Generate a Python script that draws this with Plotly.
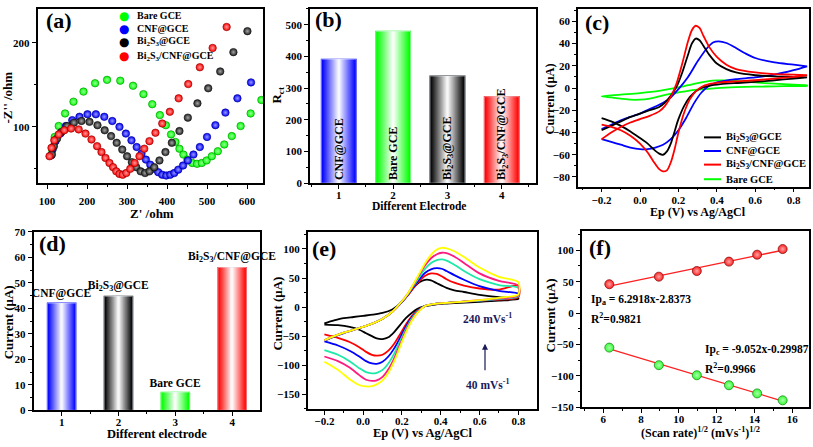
import numpy as np
import plotly.graph_objects as go

W, H = 813, 447
FONT = "Liberation Serif"

# ---------------- (a) Nyquist plots ----------------
a_bare_x = [113, 119, 129, 145, 166, 191, 220, 250, 283, 315, 341, 363, 382, 397, 410, 421, 431, 441, 451, 463, 475, 487, 499, 512, 527, 543, 562, 584, 609, 636]
a_bare_y = [72, 88, 101, 116, 130, 142, 152, 156, 155, 149, 139, 127, 114, 102, 91, 82, 74, 67, 61, 57, 56, 57, 60, 65, 71, 79, 89, 101, 116, 132]
a_cnf_x = [110, 114, 121, 133, 147, 163, 181, 201, 222, 243, 263, 281, 297, 311, 324, 336, 347, 358, 368, 378, 388, 398, 408, 418, 428, 440, 452, 466, 482, 500, 521, 546, 576, 610]
a_cnf_y = [66, 74, 83, 92, 101, 108, 112, 115, 115, 112, 107, 100, 92, 84, 76, 68, 61, 55, 50, 46, 43, 42, 43, 45, 49, 54, 60, 67, 76, 88, 102, 117, 134, 153]
a_bi_x = [112, 117, 125, 136, 150, 167, 186, 206, 226, 244, 260, 274, 288, 300, 312, 323, 334, 345, 356, 368, 381, 396, 412, 431, 452, 476, 503, 533, 566, 601]
a_bi_y = [67, 77, 86, 94, 101, 105, 107, 106, 102, 96, 89, 81, 73, 65, 58, 52, 47, 45, 47, 52, 60, 70, 81, 95, 111, 128, 146, 166, 189, 214]
a_bicnf_x = [106, 111, 118, 129, 143, 160, 179, 196, 211, 225, 236, 246, 256, 265, 273, 281, 289, 298, 308, 319, 331, 343, 356, 371, 388, 407, 429, 453, 482, 514, 549]
a_bicnf_y = [65, 75, 84, 91, 96, 98, 97, 92, 85, 77, 70, 63, 57, 52, 47, 44, 43, 45, 50, 57, 65, 74, 83, 93, 104, 118, 134, 151, 171, 194, 219]

# ---------------- (b) Rct bars ----------------
b_pos = [1, 2, 3, 4]
b_labels = ["CNF@GCE", "Bare GCE", "Bi<sub>2</sub>S<sub>3</sub>@GCE", "Bi<sub>2</sub>S<sub>3</sub>/CNF@GCE"]
b_rct = [391, 479, 338, 273]

# ---------------- (c) CVs of electrodes ----------------
c_bi_v = [-0.2, -0.15, -0.1, -0.05, 0.0, 0.05, 0.1, 0.13, 0.16, 0.19, 0.22, 0.25, 0.27, 0.29, 0.31, 0.33, 0.36, 0.4, 0.45, 0.5, 0.6, 0.7, 0.8, 0.87,
          0.87, 0.8, 0.7, 0.6, 0.5, 0.42, 0.36, 0.32, 0.29, 0.26, 0.23, 0.2, 0.18, 0.16, 0.14, 0.12, 0.1, 0.07, 0.04, 0.0, -0.05, -0.1, -0.15, -0.2]
c_bi_i = [-38, -34, -30, -26, -23, -20, -17, -13, -7, 1, 14, 30, 40, 44.5, 43, 38, 30, 22, 17, 14, 11.5, 10.5, 10, 9.5,
          9.5, 8.5, 7, 5.5, 4.5, 3.5, 2, 0, -3, -8, -16, -28, -39, -50, -57, -60, -59, -55, -50, -45, -39, -34, -30, -27]
c_cnf_v = [-0.2, -0.15, -0.1, -0.05, 0.0, 0.05, 0.1, 0.15, 0.2, 0.25, 0.3, 0.35, 0.38, 0.41, 0.45, 0.5, 0.55, 0.6, 0.7, 0.8, 0.87,
           0.87, 0.8, 0.7, 0.6, 0.5, 0.44, 0.4, 0.36, 0.32, 0.28, 0.24, 0.2, 0.16, 0.12, 0.08, 0.04, 0.0, -0.05, -0.1, -0.15, -0.2]
c_cnf_i = [-37, -33, -29, -26, -23, -19, -15, -10, -1, 10, 24, 36, 41, 42, 40.5, 36, 31, 27, 23, 21, 19.5,
           19.5, 16, 12, 9.5, 8, 6.5, 5, 2, -4, -14, -27, -38, -46, -51, -53.5, -55, -55, -53.5, -51, -48.5, -46]
c_bicnf_v = [-0.2, -0.15, -0.1, -0.05, 0.0, 0.05, 0.1, 0.13, 0.16, 0.19, 0.22, 0.25, 0.27, 0.29, 0.31, 0.33, 0.36, 0.4, 0.45, 0.5, 0.6, 0.7, 0.8, 0.87,
             0.87, 0.8, 0.7, 0.6, 0.5, 0.42, 0.36, 0.32, 0.29, 0.26, 0.23, 0.2, 0.18, 0.16, 0.14, 0.12, 0.1, 0.07, 0.04, 0.0, -0.05, -0.1, -0.15, -0.2]
c_bicnf_i = [-46, -40, -35, -31, -28, -25, -21, -16, -8, 4, 22, 42, 52, 56, 54, 47, 37, 28, 21, 17, 14, 12.5, 12, 11.5,
             11.5, 10, 8.5, 7, 6, 5, 3.5, 1, -3, -10, -22, -40, -55, -67, -74, -75, -73, -66, -58, -50, -43, -38, -35, -33]
c_bare_v = [-0.2, -0.1, 0.0, 0.1, 0.2, 0.25, 0.3, 0.35, 0.4, 0.45, 0.5, 0.6, 0.7, 0.8, 0.87,
            0.87, 0.8, 0.7, 0.6, 0.5, 0.4, 0.3, 0.25, 0.2, 0.15, 0.1, 0.05, 0.0, -0.05, -0.1, -0.15, -0.2]
c_bare_i = [-7.5, -6, -4.5, -2.5, 0.5, 2.5, 4.5, 6, 6.8, 6.8, 6.3, 5, 4, 3, 2.5,
            2, 1.8, 1.5, 1.2, 0.8, 0, -1.5, -2.5, -4, -5.5, -7.5, -9.5, -10.5, -10.5, -9.5, -8.5, -7.5]
c_names = ["Bi<sub>2</sub>S<sub>3</sub>@GCE", "CNF@GCE", "Bi<sub>2</sub>S<sub>3</sub>/CNF@GCE", "Bare GCE"]

# ---------------- (d) peak current bars ----------------
d_pos = [1, 2, 3, 4]
d_labels = ["CNF@GCE", "Bi<sub>2</sub>S<sub>3</sub>@GCE", "Bare GCE", "Bi<sub>2</sub>S<sub>3</sub>/CNF@GCE"]
d_current = [42, 44.7, 7.1, 56]

# ---------------- (e) CVs at scan rates ----------------
e_fwd_v = [-0.2, -0.15, -0.1, -0.05, 0.0, 0.05, 0.1, 0.15, 0.2, 0.23, 0.26, 0.29, 0.32, 0.35, 0.38, 0.405, 0.43, 0.47, 0.52, 0.6, 0.7, 0.8]
e_rev_v = [0.8, 0.7, 0.6, 0.5, 0.42, 0.36, 0.32, 0.28, 0.25, 0.22, 0.19, 0.16, 0.13, 0.1, 0.07, 0.045, 0.015, -0.02, -0.07, -0.13, -0.2]
e_40_fwd = [-28, -23, -19, -17, -15, -13, -10, -4, 9, 21, 34, 43, 47, 46, 41, 37, 33, 29, 26, 21, 17, 15]
e_40_rev = [14, 11, 9, 7.5, 6, 4, 1.5, -3, -10, -19, -31, -43, -52, -55, -54, -50, -45, -39, -34, -31, -30]
e_80_fwd = [-57, -50, -44, -39, -34, -28, -20, -8, 9, 20, 33, 45, 54, 58, 57, 53, 48, 42, 37, 32, 30, 37]
e_80_rev = [17, 13, 11, 9, 7, 5, 2, -6, -16, -30, -47, -63, -75, -82, -83.5, -82, -77, -69, -60, -53, -47]
e_120_fwd = [-58, -51, -45, -39, -34, -28, -20, -8, 9, 21, 35, 48, 59, 65, 67, 66, 62, 55, 47, 36, 28, 23]
e_120_rev = [19, 14, 11, 9, 7, 5, 2, -7, -18, -34, -53, -71, -85, -94, -97.5, -97, -93, -85, -75, -66, -59]
e_160_fwd = [-57, -50, -44, -39, -34, -28, -20, -8, 10, 22, 37, 52, 66, 76, 81, 82, 80, 73, 62, 48, 38, 33]
e_160_rev = [19, 14, 11, 9, 7, 5, 2, -8, -20, -38, -59, -80, -97, -108, -113, -114, -112, -105, -93, -82, -74]
e_200_fwd = [-57, -50, -44, -39, -34, -28, -20, -8, 10, 23, 39, 56, 72, 84, 91, 93.5, 93, 87, 76, 58, 45, 37]
e_200_rev = [20, 15, 12, 9, 7, 5, 2, -9, -22, -41, -64, -88, -107, -120, -126, -127, -125, -117, -104, -93, -85]
e_240_fwd = [-57, -50, -44, -39, -34, -28, -20, -8, 10, 23, 40, 58, 76, 90, 99, 102, 101, 96, 86, 68, 52, 43]
e_240_rev = [22, 16, 12, 9, 7, 5, 2, -10, -24, -44, -68, -93, -113, -126, -133, -136, -136.5, -134, -124, -108, -94]
e_label_hi = "240 mVs<sup>-1</sup>"
e_label_lo = "40 mVs<sup>-1</sup>"

# ---------------- (f) peak current vs sqrt(scan rate) ----------------
f_sqrt_rate = [6.32, 8.94, 10.95, 12.65, 14.14, 15.49]
f_ipa = [46, 58, 67, 82, 93, 102]
f_ipc = [-55, -83, -99, -115, -128, -139]
f_eq_a = ["Ip<sub>a</sub> = 6.2918x-2.8373", "R<sup>2</sup>=0.9821"]
f_eq_c = ["Ip<sub>c</sub> = -9.052x-0.29987", "R<sup>2</sup>=0.9966"]

# ======================================================================
GREEN, BLUE, BLACK, RED = "#00ff00", "#0000ff", "#000000", "#ff0000"


def hex_rgb(h):
    h = h.lstrip("#")
    return tuple(int(h[i:i + 2], 16) for i in (0, 2, 4))


def mix(h, f):
    r, g, b = hex_rgb(h)
    return "rgb(%d,%d,%d)" % (r + (255 - r) * f, g + (255 - g) * f, b + (255 - b) * f)


def darker(h, f=0.45):
    r, g, b = hex_rgb(h)
    return "rgb(%d,%d,%d)" % (r * (1 - f), g * (1 - f), b * (1 - f))


# panel boxes in pixels: x0, x1, ytop, ybottom
BOX = {
    1: (37.5, 263, 3, 182),
    2: (310, 536, 3, 182),
    3: (578, 809, 3.5, 185.7),
    4: (33.5, 260, 232, 415.5),
    5: (307.7, 537.3, 232, 414.3),
    6: (581.7, 809.3, 231.7, 412.3),
}

fig = go.Figure()


def ax(i):
    return ("x" if i == 1 else "x%d" % i), ("y" if i == 1 else "y%d" % i)


# (a)
for xs, ys, col in [(a_bare_x, a_bare_y, GREEN), (a_cnf_x, a_cnf_y, BLUE),
                    (a_bi_x, a_bi_y, "#202020"), (a_bicnf_x, a_bicnf_y, RED)]:
    fig.add_trace(go.Scatter(x=xs, y=ys, mode="markers", xaxis="x", yaxis="y",
                             marker=dict(size=7.5, color=col,
                                         gradient=dict(type="radial", color=mix(col, 0.6)),
                                         line=dict(width=0.6, color=darker(col))),
                             showlegend=False, hoverinfo="skip"))


def gradient_bars(xs, ys, colors, width, i, n=16):
    xa, ya = ax(i)
    for k in range(n):
        f = 0.97 * k / (n - 1)
        fig.add_trace(go.Bar(x=xs, y=ys, width=width * (1 - k / n), xaxis=xa, yaxis=ya,
                             marker=dict(color=[mix(c, f) for c in colors],
                                         line=dict(width=1.2 if k == 0 else 0, color=colors)),
                             showlegend=False, hoverinfo="skip"))


# (b)
gradient_bars(b_pos, b_rct, [BLUE, GREEN, BLACK, RED], 0.64, 2)
fig.add_trace(go.Bar(x=b_pos, y=b_rct, width=0.64, xaxis="x2", yaxis="y2",
                     marker=dict(color="rgba(0,0,0,0)"), text=b_labels,
                     textposition="inside", insidetextanchor="start", textangle=-90,
                     constraintext="none",
                     insidetextfont=dict(family=FONT, size=12, color="black", weight="bold"),
                     showlegend=False, hoverinfo="skip"))

# (c)
for vs, cs, col in [(c_bare_v, c_bare_i, GREEN), (c_cnf_v, c_cnf_i, BLUE),
                    (c_bi_v, c_bi_i, BLACK), (c_bicnf_v, c_bicnf_i, RED)]:
    fig.add_trace(go.Scatter(x=vs, y=cs, mode="lines", xaxis="x3", yaxis="y3",
                             line=dict(color=col, width=1.8, shape="spline", smoothing=0.8),
                             showlegend=False, hoverinfo="skip"))

# (d)
gradient_bars(d_pos, d_current, [BLUE, BLACK, GREEN, RED], 0.5, 4)
fig.add_trace(go.Bar(x=d_pos, y=d_current, width=0.5, xaxis="x4", yaxis="y4",
                     marker=dict(color="rgba(0,0,0,0)"), text=d_labels,
                     textposition="outside", textangle=0, constraintext="none", cliponaxis=False,
                     outsidetextfont=dict(family=FONT, size=11.5, color="black", weight="bold"),
                     showlegend=False, hoverinfo="skip"))

# (e)
e_sets = [(e_40_fwd, e_40_rev, BLACK), (e_80_fwd, e_80_rev, RED), (e_120_fwd, e_120_rev, BLUE),
          (e_160_fwd, e_160_rev, "#1de9a8"), (e_200_fwd, e_200_rev, "#ff1a80"),
          (e_240_fwd, e_240_rev, "#ffff00")]
for fw, rv, col in e_sets:
    fig.add_trace(go.Scatter(x=e_fwd_v + e_rev_v, y=fw + rv, mode="lines", xaxis="x5", yaxis="y5",
                             line=dict(color=col, width=1.8, shape="spline", smoothing=0.8),
                             showlegend=False, hoverinfo="skip"))

# (f)
for ys, col in [(f_ipa, "#ff2020"), (f_ipc, "#33ff33")]:
    p = np.polyfit(f_sqrt_rate, ys, 1)
    xl = [f_sqrt_rate[0], f_sqrt_rate[-1]]
    fig.add_trace(go.Scatter(x=xl, y=list(np.polyval(p, xl)), mode="lines", xaxis="x6", yaxis="y6",
                             line=dict(color="#ff2020", width=1.3), showlegend=False, hoverinfo="skip"))
    fig.add_trace(go.Scatter(x=f_sqrt_rate, y=ys, mode="markers", xaxis="x6", yaxis="y6",
                             marker=dict(size=9, color=col, gradient=dict(type="radial", color=mix(col, 0.6)),
                                         line=dict(width=0.8, color=darker(col))),
                             showlegend=False, hoverinfo="skip"))

# ---------------- axes ----------------
TICKFONT = dict(family=FONT, size=11, color="black", weight="bold")


def make_axes(i, xr, yr, xd, yd, xm, ym, xtickvals=None, xfmt=None, xstand=0):
    x0, x1, yt, yb = BOX[i]
    common = dict(showline=True, linecolor="black", linewidth=1.5, mirror=True, ticks="outside",
                  ticklen=4, tickwidth=1.3, tickcolor="black", showgrid=False, zeroline=False,
                  tickfont=TICKFONT)
    xa = dict(common, domain=[x0 / W, x1 / W], range=xr, anchor=ax(i)[1], ticklabelstandoff=xstand,
              minor=dict(ticks="outside", ticklen=2, tickcolor="black", dtick=xm, showgrid=False))
    if xtickvals is not None:
        xa.update(tickmode="array", tickvals=xtickvals)
    else:
        xa.update(tick0=0, dtick=xd)
    if xfmt:
        xa["tickformat"] = xfmt
    ya = dict(common, domain=[1 - yb / H, 1 - yt / H], range=yr, anchor=ax(i)[0], tick0=0, dtick=yd,
              minor=dict(ticks="outside", ticklen=2, tickcolor="black", dtick=ym, showgrid=False))
    key = "" if i == 1 else str(i)
    fig.update_layout(**{"xaxis" + key: xa, "yaxis" + key: ya})


make_axes(1, [76, 640], [33, 240.5], 100, 100, 50, 50, xstand=3)
make_axes(2, [0.47, 4.63], [0, 550], None, 100, 0.5, 50, xtickvals=[1, 2, 3, 4], xstand=-3)
make_axes(3, [-0.323, 0.88], [-88.75, 70.7], 0.2, 20, 0.1, 10, xfmt=".1f", xstand=-2)
make_axes(4, [0.505, 4.49], [0, 70], None, 10, 0.5, 5, xtickvals=[1, 2, 3, 4], xstand=-3)
make_axes(5, [-0.286, 0.898], [-175.6, 129.6], 0.2, 50, 0.1, 25, xfmt=".1f", xstand=-3)
make_axes(6, [4.86, 16.9], [-150, 130], 2, 50, 1, 25, xstand=-3)

# ---------------- annotations ----------------
ann = []
shapes = []


def text(x, y, s, size=13, xanchor="center", yanchor="middle", angle=0, color="black", family=FONT):
    ann.append(dict(x=x / W, y=1 - y / H, xref="paper", yref="paper", text="<b>%s</b>" % s,
                    showarrow=False, xanchor=xanchor, yanchor=yanchor, textangle=angle,
                    font=dict(family=family, size=size, color=color)))


# panel labels
for lab, x, y in [("(a)", 44, 15), ("(b)", 313, 14), ("(c)", 583, 17),
                  ("(d)", 37, 244.5), ("(e)", 310, 249), ("(f)", 587, 248)]:
    text(x, y, lab, size=22, xanchor="left")

# axis titles
text(7, 94, "-Z'' /ohm", angle=-90)
text(152, 213, "Z' /ohm")
text(278, 92, "R<sub>ct</sub>", angle=-90)
text(419, 205.5, "Different Electrode", size=11.5)
text(550, 96, "Current (μA)", angle=-90, size=12.5)
text(698, 212, "Ep (V) vs Ag/AgCl", size=12)
text(8, 325, "Current (μA)", angle=-90)
text(157, 440, "Different electrode", size=12.5)
text(278, 316, "Current (μA)", angle=-90)
text(423, 439, "Ep (V) vs Ag/AgCl", size=12.5)
text(700, 438.5, "(Scan rate)<sup>1/2</sup> (mVs<sup>-1</sup>)<sup>1/2</sup>", size=12)
text(550, 318, "Current (μA)", angle=-90)

# legend (a)
for name, col, y in [("Bare GCE", GREEN, 10), ("CNF@GCE", BLUE, 23.5),
                     ("Bi<sub>2</sub>S<sub>3</sub>@GCE", BLACK, 36.5),
                     ("Bi<sub>2</sub>S<sub>3</sub>/CNF@GCE", RED, 51.5)]:
    ann.append(dict(x=124 / W, y=1 - y / H, xref="paper", yref="paper", text="●", showarrow=False,
                    xanchor="center", yanchor="middle", font=dict(family="DejaVu Sans", size=12, color=col)))
    text(135, y, name, size=10, xanchor="left")

# legend (c)
for name, col, y in zip(c_names, [BLACK, BLUE, RED, GREEN], [135, 149, 163, 178]):
    shapes.append(dict(type="line", xref="paper", yref="paper", x0=704 / W, x1=721 / W,
                       y0=1 - y / H, y1=1 - y / H, line=dict(color=col, width=2)))
    text(724, y, name, size=10.5, xanchor="left")

# (e) scan-rate arrow
text(487, 321, e_label_hi, size=11.5, color="#1a1a5a")
text(487, 388, e_label_lo, size=11.5, color="#1a1a5a")
ann.append(dict(x=485 / W, y=1 - 347 / H, xref="paper", yref="paper", ax=0, ay=28,
                axref="pixel", ayref="pixel", text="", showarrow=True, arrowhead=2,
                arrowsize=1, arrowwidth=1.2, arrowcolor="#1a1a5a"))

# (f) equations
text(589, 302, f_eq_a[0], size=11.5, xanchor="left")
text(589, 321, f_eq_a[1], size=11.5, xanchor="left")
text(703, 354, f_eq_c[0], size=11.5, xanchor="left")
text(703, 372, f_eq_c[1], size=11.5, xanchor="left")

fig.update_layout(width=W, height=H, margin=dict(l=0, r=0, t=0, b=0),
                  paper_bgcolor="white", plot_bgcolor="white", barmode="overlay",
                  showlegend=False, annotations=ann, shapes=shapes)

fig.write_html("out.html", include_plotlyjs=True,
               post_script="document.body.style.margin='0px';")
